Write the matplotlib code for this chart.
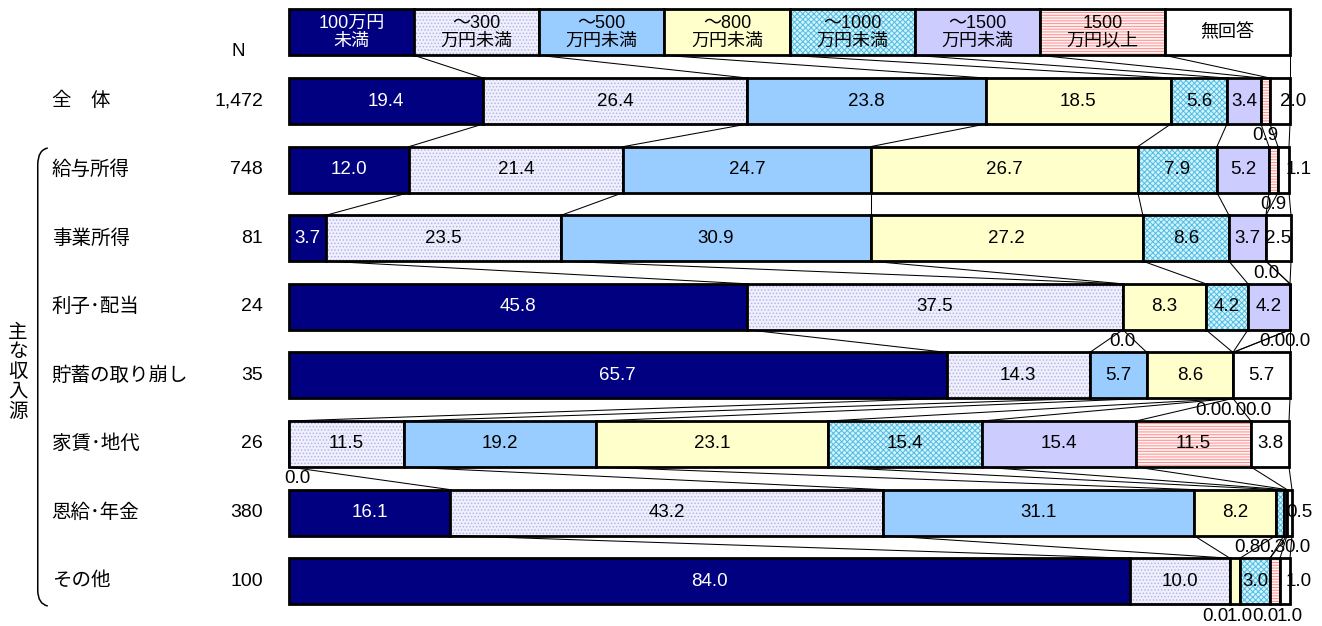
import matplotlib
matplotlib.use('Agg')
import matplotlib.pyplot as plt
from matplotlib.path import Path
from matplotlib.patches import PathPatch

plt.rcParams['font.family'] = ['Liberation Sans', 'Noto Sans CJK JP']
plt.rcParams['hatch.linewidth'] = 0.7

# income brackets (legend row) and respondent groups
brackets = ['100万円\n未満', '～300\n万円未満', '～500\n万円未満', '～800\n万円未満',
            '～1000\n万円未満', '～1500\n万円未満', '1500\n万円以上', '無回答']
groups = ['全　体', '給与所得', '事業所得', '利子･配当', '貯蓄の取り崩し',
          '家賃･地代', '恩給･年金', 'その他']
n_resp = ['1,472', '748', '81', '24', '35', '26', '380', '100']

total = [19.4, 26.4, 23.8, 18.5, 5.6, 3.4, 0.9, 2.0]
salary = [12.0, 21.4, 24.7, 26.7, 7.9, 5.2, 0.9, 1.1]
business = [3.7, 23.5, 30.9, 27.2, 8.6, 3.7, 0.0, 2.5]
interest = [45.8, 37.5, 0.0, 8.3, 4.2, 4.2, 0.0, 0.0]
savings = [65.7, 14.3, 5.7, 8.6, 0.0, 0.0, 0.0, 5.7]
rent = [0.0, 11.5, 19.2, 23.1, 15.4, 15.4, 11.5, 3.8]
pension = [16.1, 43.2, 31.1, 8.2, 0.8, 0.3, 0.0, 0.5]
other = [84.0, 10.0, 0.0, 1.0, 3.0, 0.0, 1.0, 1.0]

rows = [total, salary, business, interest, savings, rent, pension, other]

faces = ['#000080', '#F0F0FC', '#99CCFF', '#FFFFCC', '#D4F2FA', '#CCCCFF', '#FFF4F4', '#FFFFFF']
hatches = [None, '.....', None, None, 'xxxxxx', None, '------', None]
hcolors = ['#000080', '#B4B4EC', '#99CCFF', '#FFFFCC', '#50BDE4', '#CCCCFF', '#FF8C8C', '#FFFFFF']

H = 0.67          # bar thickness in row units
YPX = 68.6        # pixels per row
fig = plt.figure(figsize=(13.22, 6.26), dpi=100)
ax = fig.add_axes([0, 0, 1, 1])
ax.set_xlim(-289 / 10.01, (1322 - 289) / 10.01)
ax.set_ylim(525 / YPX, -101 / YPX)
ax.axis('off')


def draw_row(y, vals):
    left = 0
    cums = []
    for k, v in enumerate(vals):
        ax.barh(y, v, left=left, height=H, color=faces[k], hatch=hatches[k],
                edgecolor=hcolors[k], linewidth=0)
        ax.barh(y, v, left=left, height=H, fill=False, edgecolor='black', linewidth=2.0)
        left += v
        cums.append(left)
    return cums


def spread(xs, gap=2.5, right=100.7, low=0.8):
    # push overlapping small labels apart, keep them near the bar
    xs = list(xs)
    for _ in range(200):
        for j in range(len(xs) - 1):
            d = xs[j + 1] - xs[j]
            if d < gap:
                xs[j] -= (gap - d) / 2
                xs[j + 1] += (gap - d) / 2
    if xs:
        xs[-1] = min(xs[-1], right)
        for j in range(len(xs) - 2, -1, -1):
            xs[j] = min(xs[j], xs[j + 1] - gap)
        xs[0] = max(xs[0], low)
        for j in range(1, len(xs)):
            xs[j] = max(xs[j], xs[j - 1] + gap)
    return xs


# legend row: equal cells with the bracket names
key = [100 / len(brackets)] * len(brackets)
all_cums = [draw_row(-1, key)]
lft = 0
for k, name in enumerate(brackets):
    ax.text(lft + key[k] / 2, -1, name, ha='center', va='center', fontsize=13,
            linespacing=1.05, color='white' if k == 0 else 'black')
    lft += key[k]

for i, vals in enumerate(rows):
    cums = draw_row(i, vals)
    all_cums.append(cums)
    below = []
    left = 0
    for k, v in enumerate(vals):
        c = left + v / 2
        if v >= 2.5:
            ax.text(c, i, f'{v:.1f}', ha='center', va='center', fontsize=13.5,
                    color='white' if k == 0 else 'black')
        elif k == len(vals) - 1 and v > 0:
            ax.text(max(c, 100.9) if v < 1.5 else 100.3, i, f'{v:.1f}',
                    ha='center', va='center', fontsize=13.5)
        else:
            below.append((c, v))
        left += v
    xs = spread([b[0] for b in below])
    for x, (_, v) in zip(xs, below):
        ax.text(x, i + H / 2 + 12 / YPX, f'{v:.1f}', ha='center', va='center', fontsize=13.5)
    # group name and sample size
    ax.text(-23.7, i, groups[i], ha='left', va='center', fontsize=14)
    ax.text(-2.6, i, n_resp[i], ha='right', va='center', fontsize=14)

# series lines between neighbouring bars
ys = list(range(-1, len(rows)))
for i in range(len(ys) - 1):
    for k in range(len(brackets)):
        ax.plot([all_cums[i][k], all_cums[i + 1][k]],
                [ys[i] + H / 2, ys[i + 1] - H / 2], color='black', lw=0.75)

ax.text(-5.1, -0.715, 'N', ha='center', va='center', fontsize=13.5)

# bracket grouping the income sources
def py(p):
    return (p - 101) / YPX

verts = [(-24.1, py(148)), (-25.1, py(150)), (-25.1, py(165)),
         (-25.1, py(590)),
         (-25.1, py(604)), (-24.1, py(606))]
codes = [Path.MOVETO, Path.CURVE3, Path.CURVE3, Path.LINETO, Path.CURVE3, Path.CURVE3]
ax.add_patch(PathPatch(Path(verts, codes), fill=False, lw=1.1, edgecolor='black'))
ax.text(-27.1, py(373), '\n'.join('主な収入源'), ha='center', va='center',
        fontsize=14, linespacing=1.18)

fig.savefig('out.png', dpi=100)
